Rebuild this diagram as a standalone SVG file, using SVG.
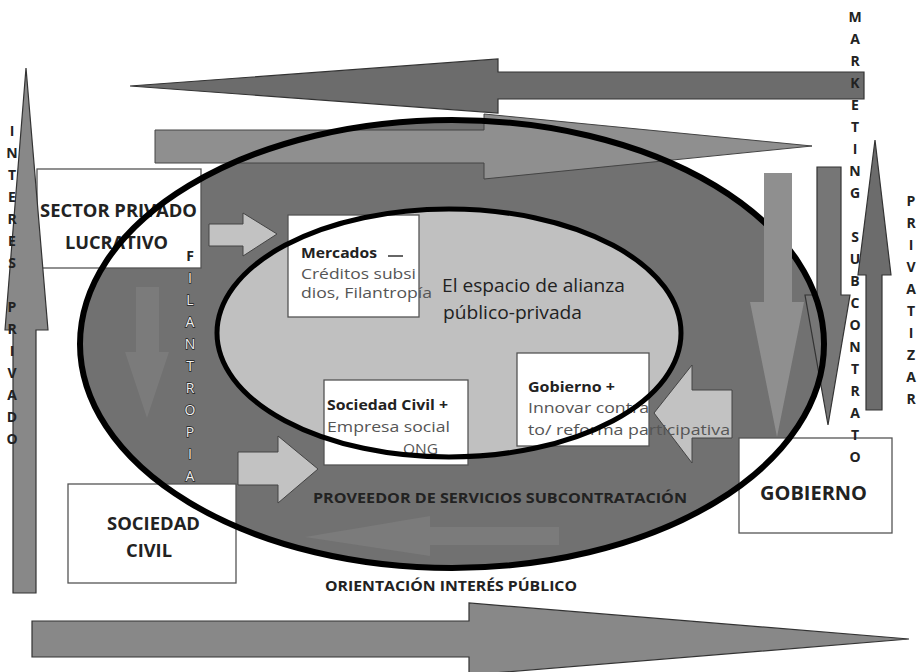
<svg xmlns="http://www.w3.org/2000/svg" width="917" height="672" viewBox="0 0 917 672">
<style>
text{font-family:"Open Sans","Liberation Sans",sans-serif}
.box{fill:#fff;stroke:#555;stroke-width:1.3}
.dark{fill:#6c6c6c;stroke:#333;stroke-width:1.2}
.mid{fill:#888;stroke:#333;stroke-width:1.2}
.light{fill:#8f8f8f;stroke:#444;stroke-width:1}
.pale{fill:#c2c2c2;stroke:#444;stroke-width:1}
.faint{fill:#7b7b7b}
.b{font-weight:bold;fill:#222}
.t{fill:#555}
.v{font-weight:bold;font-size:14px;fill:#222;text-anchor:middle}
.vw{font-size:14px;fill:#f0f0f0;stroke:#222;stroke-width:1.3;paint-order:stroke;text-anchor:middle}
.ring{fill:none;stroke:#000}
</style>
<rect width="917" height="672" fill="#fff"/>
<g id="connectors">
<polygon class="mid" points="32,621 469,621 469,603 909,639 469,675 469,657 32,657"/>
<polygon class="dark" points="130,86 498,59 498,72 864,72 864,99 498,99 498,113"/>
<polygon class="dark" points="875,140 891,275 882,275 882,410 866,410 866,275 858,275"/>
</g>
<g id="alliance-space">
<ellipse cx="452" cy="344" rx="372" ry="224" fill="#717171"/>
<ellipse cx="449" cy="333" rx="231" ry="124" fill="#c0c0c0"/>
</g>
<g id="arrows">
<polygon class="faint" points="136,287 159,287 159,352 169,352 147,418 125,352 136,352"/>
<polygon class="faint" points="559,527 559,545 430,545 430,556 305,537 430,516 430,527"/>
<polygon class="light" points="155,130 484,130 484,114 812,146 484,179 484,163 155,163"/>
<polygon fill="#767676" stroke="#333" stroke-width="1.2" points="817,167 841,167 841,295 850,295 828,425 805,295 817,295"/>
<polygon class="pale" points="209,224 243,224 243,213 277,234 243,256 243,246 209,246"/>
<polygon class="pale" points="238,452 278,452 278,436 318,469 278,503 278,485 238,485"/>
<polygon class="pale" points="732,390 692,390 692,365 654,413 692,463 692,438 732,438"/>
</g>
<g id="sector-privado">
<rect class="box" x="37" y="169" width="164" height="99"/>
<text class="b" x="40" y="217" font-size="18" textLength="157" lengthAdjust="spacingAndGlyphs">SECTOR PRIVADO</text>
<text class="b" x="65" y="249" font-size="18" textLength="103" lengthAdjust="spacingAndGlyphs">LUCRATIVO</text>
</g>
<g id="mercados">
<rect class="box" x="288" y="215" width="131" height="102"/>
<text class="b" x="301" y="258" font-size="15" fill="#333" textLength="76" lengthAdjust="spacingAndGlyphs">Mercados</text>
<line x1="388" y1="256" x2="403" y2="256" stroke="#333" stroke-width="1.5"/>
<text class="t" x="301" y="279" font-size="15" textLength="115" lengthAdjust="spacingAndGlyphs">Créditos subsi</text>
<text class="t" x="301" y="298" font-size="15" textLength="131" lengthAdjust="spacingAndGlyphs">dios, Filantropía</text>
</g>
<g id="sociedad-civil-plus">
<rect class="box" x="324" y="380" width="144" height="85"/>
<text class="b" x="327" y="410" font-size="14" fill="#333" textLength="121" lengthAdjust="spacingAndGlyphs">Sociedad Civil +</text>
<text class="t" x="327" y="432" font-size="15" textLength="123" lengthAdjust="spacingAndGlyphs">Empresa social</text>
<text class="t" x="403" y="454" font-size="15" textLength="35" lengthAdjust="spacingAndGlyphs">ONG</text>
</g>
<g id="gobierno-plus">
<rect class="box" x="517" y="353" width="132" height="93"/>
<text class="b" x="528" y="392" font-size="14" fill="#333" textLength="87" lengthAdjust="spacingAndGlyphs">Gobierno +</text>
<text class="t" x="528" y="413" font-size="15" textLength="121" lengthAdjust="spacingAndGlyphs">Innovar contra</text>
<text class="t" x="528" y="435" font-size="15" textLength="202" lengthAdjust="spacingAndGlyphs">to/ reforma participativa</text>
</g>
<g id="gobierno">
<rect class="box" x="739" y="438" width="153" height="95"/>
<text class="b" x="760" y="500" font-size="20" textLength="107" lengthAdjust="spacingAndGlyphs">GOBIERNO</text>
</g>
<g id="sociedad-civil">
<rect class="box" x="68" y="484" width="168" height="99"/>
<text class="b" x="107" y="530" font-size="18" textLength="93" lengthAdjust="spacingAndGlyphs">SOCIEDAD</text>
<text class="b" x="126" y="557" font-size="18" textLength="46" lengthAdjust="spacingAndGlyphs">CIVIL</text>
</g>
<g id="rings">
<ellipse class="ring" cx="452" cy="344" rx="372" ry="224" stroke-width="6"/>
<ellipse class="ring" cx="449" cy="333" rx="232" ry="124" stroke-width="5"/>
</g>
<g id="connectors-top">
<polygon fill="#8f8f8f" points="764,173 792,173 792,302 804,302 777,437 750,302 764,302"/>
<polygon class="mid" points="26,68 48,330 36,330 36,593 13,593 13,330 5,330"/>
</g>
<g id="labels">
<text x="442" y="292" font-size="18" fill="#222" textLength="183" lengthAdjust="spacingAndGlyphs">El espacio de alianza</text>
<text x="443" y="319" font-size="18" fill="#222" textLength="139" lengthAdjust="spacingAndGlyphs">público-privada</text>
<text class="b" x="313" y="503" font-size="15" textLength="374" lengthAdjust="spacingAndGlyphs">PROVEEDOR DE SERVICIOS SUBCONTRATACIÓN</text>
<text class="b" x="325" y="591" font-size="15" textLength="252" lengthAdjust="spacingAndGlyphs">ORIENTACIÓN INTERÉS PÚBLICO</text>
</g>
<g id="interes-privado">
<text class="v" x="12" y="136">I</text><text class="v" x="12" y="158">N</text><text class="v" x="12" y="180">T</text><text class="v" x="12" y="202">E</text><text class="v" x="12" y="224">R</text><text class="v" x="12" y="246">E</text><text class="v" x="12" y="268">S</text>
<text class="v" x="12" y="312">P</text><text class="v" x="12" y="334">R</text><text class="v" x="12" y="356">I</text><text class="v" x="12" y="378">V</text><text class="v" x="12" y="400">A</text><text class="v" x="12" y="422">D</text><text class="v" x="12" y="444">O</text>
</g>
<g id="filantropia">
<text class="v" x="190" y="261">F</text><text class="vw" x="190" y="283">I</text><text class="vw" x="190" y="305">L</text><text class="vw" x="190" y="327">A</text><text class="vw" x="190" y="349">N</text><text class="vw" x="190" y="371">T</text><text class="vw" x="190" y="393">R</text><text class="vw" x="190" y="415">O</text><text class="vw" x="190" y="437">P</text><text class="vw" x="190" y="459">I</text><text class="vw" x="190" y="481">A</text>
</g>
<g id="marketing-subcontrato">
<text class="v" x="855" y="22">M</text><text class="v" x="855" y="44">A</text><text class="v" x="855" y="66">R</text><text class="v" x="855" y="88">K</text><text class="v" x="855" y="110">E</text><text class="v" x="855" y="132">T</text><text class="v" x="855" y="154">I</text><text class="v" x="855" y="176">N</text><text class="v" x="855" y="198">G</text>
<text class="v" x="855" y="242">S</text><text class="v" x="855" y="264">U</text><text class="v" x="855" y="286">B</text><text class="v" x="855" y="308">C</text><text class="v" x="855" y="330">O</text><text class="v" x="855" y="352">N</text><text class="v" x="855" y="374">T</text><text class="v" x="855" y="396">R</text><text class="v" x="855" y="418">A</text><text class="v" x="855" y="440">T</text><text class="v" x="855" y="462">O</text>
</g>
<g id="privatizar">
<text class="v" x="911" y="206">P</text><text class="v" x="911" y="228">R</text><text class="v" x="911" y="250">I</text><text class="v" x="911" y="272">V</text><text class="v" x="911" y="294">A</text><text class="v" x="911" y="316">T</text><text class="v" x="911" y="338">I</text><text class="v" x="911" y="360">Z</text><text class="v" x="911" y="382">A</text><text class="v" x="911" y="404">R</text>
</g>
</svg>
